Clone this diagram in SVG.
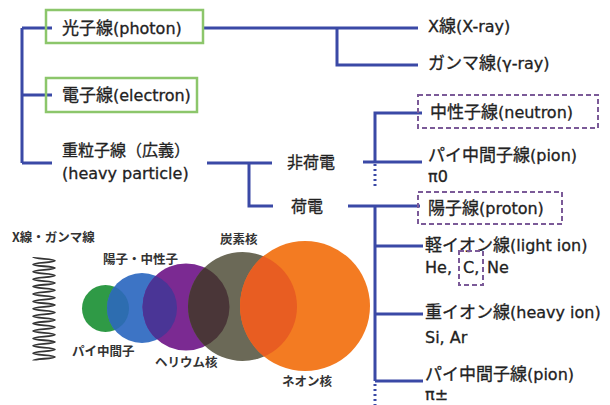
<svg xmlns="http://www.w3.org/2000/svg" width="610" height="405" viewBox="0 0 610 405">
  <style>
    text { font-family: "DejaVu Sans", "Noto Sans CJK JP", sans-serif; fill: #222; }
    .lbl { font-size: 16px; stroke: #222; stroke-width: 0.3; }
    .j { font-size: 17px; }
    .small { font-size: 12.5px; font-weight: bold; fill: #333; font-family: "Noto Sans CJK JP", sans-serif; }
    .wire { stroke: #3a49a6; stroke-width: 3; fill: none; }
    .dot { stroke: #3a49a6; stroke-width: 3; fill: none; stroke-dasharray: 2 3; }
    .gbox { fill: none; stroke: #8cc66b; stroke-width: 2.5; }
    .pbox { fill: none; stroke: #7b5a98; stroke-width: 2; stroke-dasharray: 5 3; }
  </style>
  <defs>
    <clipPath id="cGreen"><circle cx="105.5" cy="308.5" r="23.5"/></clipPath>
    <clipPath id="cBlue"><circle cx="142" cy="308" r="35"/></clipPath>
    <clipPath id="cPurple"><circle cx="186" cy="307" r="43.5"/></clipPath>
    <clipPath id="cOlive"><circle cx="242.5" cy="306.5" r="54.5"/></clipPath>
  </defs>
  <rect width="610" height="405" fill="#fff"/>

  <!-- connectors -->
  <g id="connectors">
    <path class="wire" d="M22,28 V163 M22,28 H52 M22,95 H52 M22,163 H52"/>
    <path class="wire" d="M204,28 H418 M337,28 V65 H418"/>
    <path class="wire" d="M207,163 H272 M249,163 V206 H273"/>
    <path class="wire" d="M363,162 H422 M375,162 V113 H422"/>
    <path class="dot" d="M375,164 V189"/>
    <path class="wire" d="M348,206 H420 M375,206 V381 M375,246 H423 M375,314 H423 M375,381 H423"/>
    <path class="dot" d="M375,384 V405"/>
  </g>

  <!-- radiation categories -->
  <g id="photon">
    <rect class="gbox" x="46" y="10" width="157" height="33"/>
    <text class="lbl" x="62" y="34"><tspan class="j">光子線</tspan>(photon)</text>
  </g>
  <g id="electron">
    <rect class="gbox" x="46" y="78" width="151" height="34"/>
    <text class="lbl" x="62" y="101"><tspan class="j">電子線</tspan>(electron)</text>
  </g>
  <g id="heavy-particle">
    <text class="lbl" x="62" y="156">重粒子線（広義）</text>
    <text class="lbl" x="62" y="179">(heavy particle)</text>
  </g>
  <g id="x-ray"><text class="lbl" x="428" y="32">X<tspan class="j">線</tspan>(X-ray)</text></g>
  <g id="gamma-ray"><text class="lbl" x="428" y="69"><tspan class="j">ガンマ線</tspan>(γ-ray)</text></g>
  <g id="uncharged"><text class="lbl" x="287" y="168">非荷電</text></g>
  <g id="charged"><text class="lbl" x="291" y="212">荷電</text></g>
  <g id="neutron">
    <rect class="pbox" x="418" y="95" width="180" height="33"/>
    <text class="lbl" x="430" y="118"><tspan class="j">中性子線</tspan>(neutron)</text>
  </g>
  <g id="pion-neutral">
    <text class="lbl" x="428" y="161"><tspan class="j">パイ中間子線</tspan>(pion)</text>
    <text class="lbl" x="428" y="182">π0</text>
  </g>
  <g id="proton">
    <rect class="pbox" x="418" y="192" width="144" height="32"/>
    <text class="lbl" x="428" y="214"><tspan class="j">陽子線</tspan>(proton)</text>
  </g>
  <g id="light-ion">
    <text class="lbl" x="425" y="251"><tspan class="j">軽イオン線</tspan>(light ion)</text>
    <text class="lbl" y="273"><tspan x="425">He,</tspan><tspan x="463">C,</tspan><tspan x="487">Ne</tspan></text>
    <rect class="pbox" x="459" y="251" width="24" height="34"/>
  </g>
  <g id="heavy-ion">
    <text class="lbl" x="425" y="318"><tspan class="j">重イオン線</tspan>(heavy ion)</text>
    <text class="lbl" x="425" y="343">Si, Ar</text>
  </g>
  <g id="pion-charged">
    <text class="lbl" x="425" y="380"><tspan class="j">パイ中間子線</tspan>(pion)</text>
    <text class="lbl" x="425" y="400">π±</text>
  </g>

  <!-- relative sizes of the particles -->
  <g id="wave">
    <text class="small" x="12" y="242">X線・ガンマ線</text>
    <path fill="none" stroke="#333" stroke-width="1.8" d="M33,257
      c0,2 22,1.7 22,3.7 c0,2 -22,1.7 -22,3.7
      c0,2 22,1.7 22,3.7 c0,2 -22,1.7 -22,3.7
      c0,2 22,1.7 22,3.7 c0,2 -22,1.7 -22,3.7
      c0,2 22,1.7 22,3.7 c0,2 -22,1.7 -22,3.7
      c0,2 22,1.7 22,3.7 c0,2 -22,1.7 -22,3.7
      c0,2 22,1.7 22,3.7 c0,2 -22,1.7 -22,3.7
      c0,2 22,1.7 22,3.7 c0,2 -22,1.7 -22,3.7
      c0,2 22,1.7 22,3.7 c0,2 -22,1.7 -22,3.7
      c0,2 22,1.7 22,3.7 c0,2 -22,1.7 -22,3.7
      c0,2 22,1.7 22,3.7 c0,2 -22,1.7 -22,3.7
      c0,2 22,1.7 22,3.7 c0,2 -22,1.7 -22,3.7
      c0,2 22,1.7 22,3.7 c0,2 -22,1.7 -22,3.7
      c0,2 22,1.7 22,3.7 c0,2 -22,1.7 -22,3.7
      c0,2 22,1.7 22,3.7 c0,2 -22,1.7 -22,3.7"/>
  </g>
  <g id="particles">
    <circle cx="105.5" cy="308.5" r="23.5" fill="#2f9a46"/>
    <circle cx="142" cy="308" r="35" fill="#3d74c5"/>
    <circle cx="142" cy="308" r="35" fill="#2d6db0" clip-path="url(#cGreen)"/>
    <circle cx="186" cy="307" r="43.5" fill="#7b2a92"/>
    <circle cx="186" cy="307" r="43.5" fill="#4a3596" clip-path="url(#cBlue)"/>
    <circle cx="242.5" cy="306.5" r="54.5" fill="#6b6957"/>
    <circle cx="242.5" cy="306.5" r="54.5" fill="#4a3638" clip-path="url(#cPurple)"/>
    <circle cx="305" cy="306" r="65" fill="#f37b22"/>
    <circle cx="305" cy="306" r="65" fill="#e85d22" clip-path="url(#cOlive)"/>
  </g>
  <g id="particle-labels">
    <text class="small" x="103" y="264">陽子・中性子</text>
    <text class="small" x="220" y="244">炭素核</text>
    <text class="small" x="72" y="356">パイ中間子</text>
    <text class="small" x="155" y="367">ヘリウム核</text>
    <text class="small" x="282" y="386">ネオン核</text>
  </g>
</svg>
